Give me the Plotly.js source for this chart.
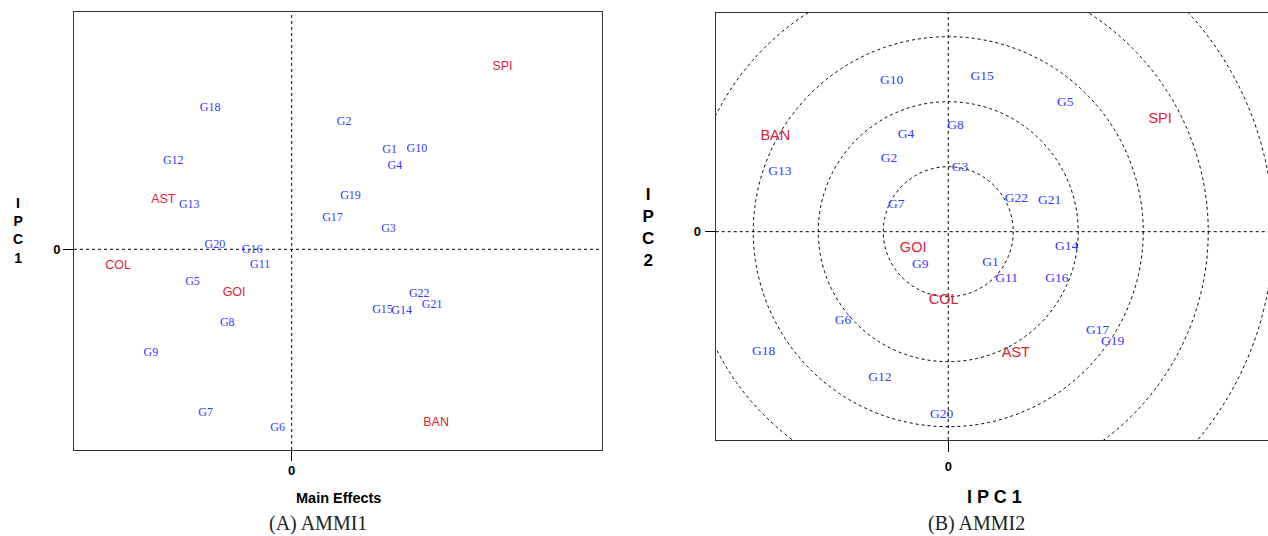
<!DOCTYPE html>
<html>
<head>
<meta charset="utf-8">
<script src="https://cdn.plot.ly/plotly-3.0.1.min.js"></script>
<style>
html,body{margin:0;padding:0;overflow:hidden;background:#fff;}
#chart{width:1300px;height:536px;}
</style>
</head>
<body>
<div id="chart"></div>
<script>
// ---- Data ----
const genotypes = ['G1','G2','G3','G4','G5','G6','G7','G8','G9','G10','G11','G12','G13','G14','G15','G16','G17','G18','G19','G20','G21','G22'];
const environments = ['SPI','BAN','GOI','COL','AST'];

// (A) AMMI1: main effects (x) vs IPC1 (y)
const ammi1GenoMain = [2.45,1.31,2.42,2.58,-2.48,-0.35,-2.15,-1.61,-3.52,3.13,-0.79,-2.96,-2.56,2.75,2.27,-0.99,1.02,-2.04,1.47,-1.92,3.51,3.19];
const ammi1GenoIPC1 = [2.47,3.18,0.51,2.09,-0.81,-4.47,-4.09,-1.84,-2.60,2.51,-0.39,2.21,1.11,-1.54,-1.52,-0.02,0.79,3.53,1.32,0.11,-1.39,-1.13];
const ammi1EnvMain = [5.27,3.61,-1.44,-4.34,-3.21];
const ammi1EnvIPC1 = [4.57,-4.33,-1.10,-0.42,1.23];

// (B) AMMI2: IPC1 (x) vs IPC2 (y)
const ammi2GenoIPC1 = [0.65,-0.91,0.18,-0.65,1.80,-1.62,-0.80,0.11,-0.43,-0.87,0.90,-1.05,-2.59,1.82,0.52,1.67,2.30,-2.84,2.53,-0.10,1.56,1.05];
const ammi2GenoIPC2 = [-0.47,1.13,0.98,1.49,1.99,-1.37,0.41,1.63,-0.50,2.32,-0.73,-2.25,0.92,-0.23,2.38,-0.72,-1.53,-1.84,-1.69,-2.81,0.48,0.51];
const ammi2EnvIPC1 = [3.26,-2.66,-0.54,-0.07,1.04];
const ammi2EnvIPC2 = [1.73,1.46,-0.25,-1.05,-1.88];

const circleRadii = [1,2,3,4,5];
const zeroTick = ['0'];

// ---- Styles ----
const W = 1300, H = 536;
const BLUE = 'rgb(55,55,255)';
const RED = 'rgb(220,35,55)';
const serif = 'Liberation Serif, Times New Roman, serif';
const sans = 'Liberation Sans, Arial, sans-serif';

const traces = [
  {x: ammi1GenoMain, y: ammi1GenoIPC1, text: genotypes, mode:'text', type:'scatter',
   textfont:{family:serif, size:12, color:BLUE}, xaxis:'x', yaxis:'y', hoverinfo:'text'},
  {x: ammi1EnvMain, y: ammi1EnvIPC1, text: environments, mode:'text', type:'scatter',
   textfont:{family:sans, size:12.5, color:RED}, xaxis:'x', yaxis:'y', hoverinfo:'text'},
  {x: ammi2GenoIPC1, y: ammi2GenoIPC2, text: genotypes, mode:'text', type:'scatter',
   textfont:{family:serif, size:13.5, color:BLUE}, xaxis:'x2', yaxis:'y2', hoverinfo:'text'},
  {x: ammi2EnvIPC1, y: ammi2EnvIPC2, text: environments, mode:'text', type:'scatter',
   textfont:{family:sans, size:14.5, color:RED}, xaxis:'x2', yaxis:'y2', hoverinfo:'text'}
];

function px(x){return x/W;}
function py(y){return 1 - y/H;}

const axisCommon = {
  showgrid:false, zeroline:false, showline:true, mirror:true, linecolor:'#333', linewidth:1,
  ticks:'outside', ticklen:11, tickcolor:'#000', tickwidth:1, ticklabelstandoff:3,
  tickvals:[0], ticktext: zeroTick.map(t => '<b>'+t+'</b>'),
  tickfont:{family:sans, size:13, color:'#000'}, fixedrange:true
};

const layout = {
  width: W, height: H,
  margin:{l:0,r:0,t:0,b:0},
  paper_bgcolor:'#fff', plot_bgcolor:'#fff',
  showlegend:false,
  xaxis: Object.assign({}, axisCommon, {domain:[px(74), px(601.7)], range:[-5.4425, 7.75], anchor:'y', ticklen:10, ticklabelstandoff:-2}),
  yaxis: Object.assign({}, axisCommon, {domain:[py(450), py(12.3)], range:[-5.0175, 5.925], anchor:'x', ticklen:10, ticklabelstandoff:0}),
  xaxis2: Object.assign({}, axisCommon, {domain:[px(715.7), px(1275)], range:[-3.578, 5.027], anchor:'y2'}),
  yaxis2: Object.assign({}, axisCommon, {domain:[py(440), py(12.7)], range:[-3.205, 3.369], anchor:'x2', ticklen:10, ticklabelstandoff:1}),
  shapes: [],
  annotations: []
};

const dashLine = {color:'#000', width:1, dash:'3px,3px'};
// zero reference lines
[['x','y'],['x2','y2']].forEach(([xa,ya]) => {
  layout.shapes.push({type:'line', xref:xa, yref:ya+' domain', x0:0, x1:0, y0:0, y1:1, line:dashLine, layer:'below'});
  layout.shapes.push({type:'line', xref:xa+' domain', yref:ya, x0:0, x1:1, y0:0, y1:0, line:dashLine, layer:'below'});
});
// concentric circles for AMMI2
circleRadii.forEach(r => {
  layout.shapes.push({type:'circle', xref:'x2', yref:'y2', x0:-r, x1:r, y0:-r, y1:r, line:dashLine, layer:'below'});
});

function ann(text, x, y, font){
  layout.annotations.push({text:text, xref:'paper', yref:'paper', x:px(x), y:py(y),
    xanchor:'center', yanchor:'middle', showarrow:false, font:font});
}
ann('<b>Main Effects</b>', 338, 498, {family:sans, size:14.5, color:'#000'});
ann('<b>I<br>P<br>C<br>1</b>', 18, 230, {family:sans, size:14, color:'#000'});
ann('(A) AMMI1', 318, 523, {family:serif, size:20, color:'#222'});
ann('<b>I P C 1</b>', 995, 497, {family:sans, size:18, color:'#000'});
ann('<b>I<br>P<br>C<br>2</b>', 648, 227, {family:sans, size:17, color:'#000'});
ann('(B) AMMI2', 977, 523, {family:serif, size:20, color:'#222'});

Plotly.newPlot('chart', traces, layout, {displayModeBar:false, staticPlot:true});
</script>
</body>
</html>
